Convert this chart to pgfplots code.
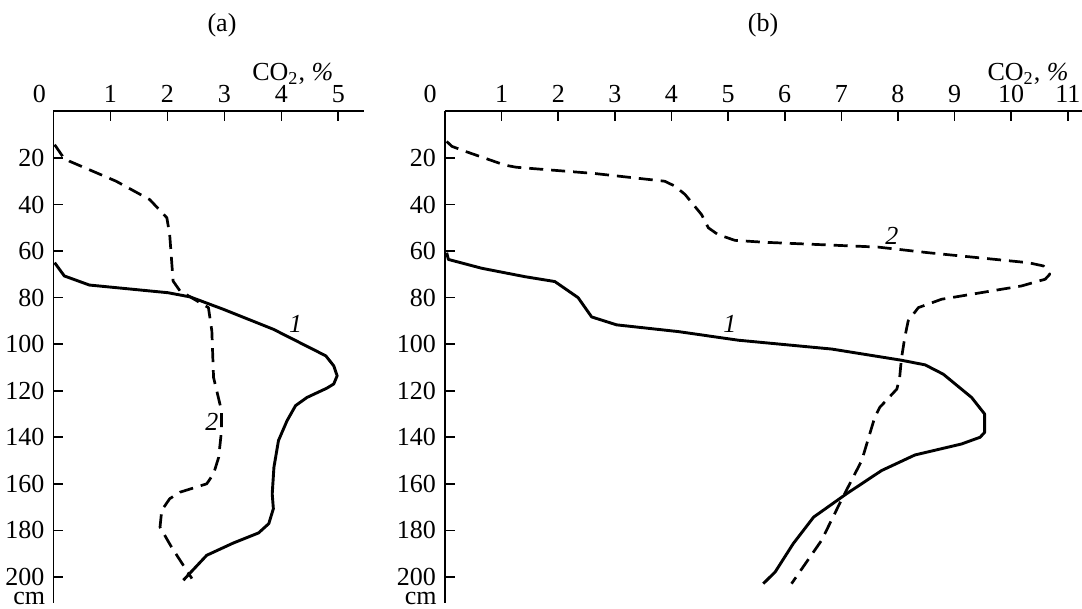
\documentclass[border=0pt]{standalone}
\usepackage{fontspec}
\setmainfont{Liberation Serif}
\usepackage{pgfplots}
\pgfplotsset{compat=1.18}
\begin{document}
\fontsize{13}{15}\selectfont
\begin{tikzpicture}[x=1pt,y=1pt]
\path[use as bounding box] (0,0) rectangle (541,304.5);
\pgfplotsset{
  myax/.style={
    scale only axis, anchor=south west,
    height=245.8pt,
    ymin=0, ymax=211.2, y dir=reverse,
    axis x line*=top, axis y line*=left,
    axis line style={line width=0.9pt, -},
    tick align=inside,
    major tick length=5pt,
    tick style={line width=0.8pt, black},
    ytick={20,40,...,200},
    yticklabels={20,40,60,80,100,120,140,160,180,200},
    ticklabel style={font=\fontsize{13}{15}\selectfont},
    clip=false,
  },
  c1/.style={black, line width=1.45pt, line join=round},
  c2/.style={black, line width=1.35pt, dash pattern=on 7pt off 4pt, line join=round},
}
% ---------- panel (a)
\begin{axis}[myax, at={(26.75pt,3pt)}, width=155.5pt, xmin=0, xmax=5.46,
  xtick={1,2,3,4,5}, xticklabels={1,2,3,4,5}]
\addplot[c1] coordinates {
(0.02,65) (0.19,70.7) (0.63,74.6) (2.01,77.9) (2.4,79.7) (2.98,85) (3.86,93.6)
(4.78,105) (4.92,109.3) (4.98,113.6) (4.92,117.1) (4.8,118.9) (4.45,122.9)
(4.25,126.4) (4.1,132.9) (3.95,141.4) (3.87,152.9) (3.84,164.3) (3.86,170.7)
(3.78,177.1) (3.6,181.1) (3.16,185.4) (2.69,190.7) (2.28,201.4)};
\addplot[c2] coordinates {
(0.02,14.3) (0.16,19.3) (0.28,21.4) (1.1,30) (1.69,37.9) (1.99,45.7) (2.04,52.9)
(2.1,72.9) (2.22,77.1) (2.72,84.3) (2.78,94.3) (2.81,114.3) (2.95,128.6)
(2.95,137.1) (2.9,148.6) (2.81,155.7) (2.69,160) (2.22,163.6) (2.04,166.4)
(1.9,171.4) (1.87,178.6) (2.07,187.1) (2.43,200.7)};
\node[font=\itshape] at (axis cs:4.25,91.4) {1};
\node[font=\itshape] at (axis cs:2.78,133.6) {2};
\node[anchor=south, xshift=-7pt] at (axis cs:0,0) {0};
\node[anchor=base east] at (axis cs:5.07,0) [yshift=15.3pt] {CO\textsubscript{2}, \textit{\%}};
\node[anchor=base east, xshift=-2pt, yshift=-0.8pt, inner sep=2pt] at (axis cs:0,211.2) {cm};
\end{axis}
% ---------- panel (b)
\begin{axis}[myax, at={(222.5pt,3pt)}, width=318.5pt, xmin=0, xmax=11.25,
  xtick={1,2,...,11}, xticklabels={1,2,3,4,5,6,7,8,9,10,11}]
\addplot[c1] coordinates {
(0.03,60.7) (0.06,63.6) (0.65,67.4) (1.41,71) (1.94,73.1) (2.35,80) (2.59,88.3)
(3.03,91.7) (4.12,94.6) (5.18,98.3) (6.83,102.1) (8.06,106.9) (8.48,108.9)
(8.8,112.9) (9.3,122.9) (9.53,130) (9.53,137.9) (9.45,140) (9.12,142.9)
(8.3,147.6) (7.71,154.3) (7.09,164.3) (6.51,174.3) (6.15,185.7) (5.83,197.9) (5.62,202.9)};
\addplot[c2] coordinates {
(0.03,12.9) (0.12,15) (0.35,17.1) (1.06,23.1) (1.26,24) (2.65,26.7) (3.88,30)
(4.06,32.1) (4.24,35.7) (4.53,44.3) (4.65,50) (4.82,52.9) (5.12,55.4) (5.62,56.2)
(7.65,58.3) (8.53,60.7) (10.3,65) (10.57,66.4) (10.68,70) (10.6,72.1) (10.18,75)
(8.77,80.7) (8.36,84.3) (8.18,90) (8.12,97.1) (8.06,106.4) (8.03,114.3) (7.98,119.3)
(7.68,127.1) (7.59,131.4) (7.36,150) (7.0,167) (6.65,184.3) (6.12,202.9)};
\node[font=\itshape] at (axis cs:5.03,91.4) {1};
\node[font=\itshape] at (axis cs:7.89,53.6) {2};
\node[anchor=south, xshift=-7.5pt] at (axis cs:0,0) {0};
\node[anchor=base east] at (axis cs:11.17,0) [yshift=15.3pt] {CO\textsubscript{2}, \textit{\%}};
\node[anchor=base east, xshift=-2pt, yshift=-0.8pt, inner sep=2pt] at (axis cs:0,211.2) {cm};
\end{axis}
\node at (111,292) {(a)};
\node at (381.5,292) {(b)};
\end{tikzpicture}
\end{document}
